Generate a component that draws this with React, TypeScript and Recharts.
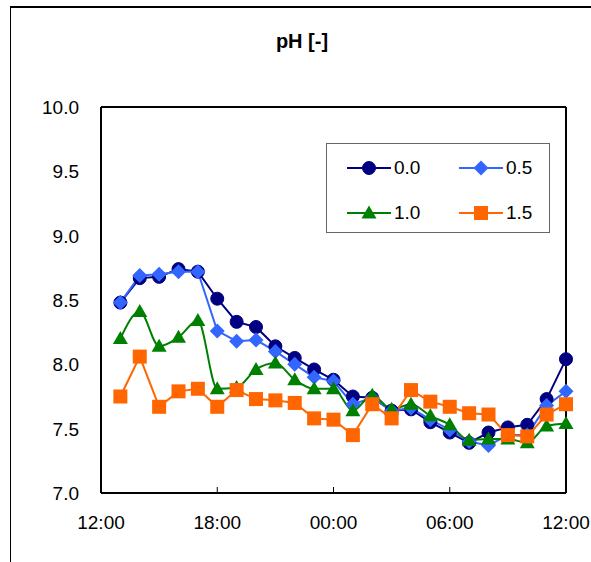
import React from 'react';
import {
  LineChart,
  Line,
  XAxis,
  YAxis,
  CartesianGrid,
  Legend,
} from 'recharts';

// hours after 12:00 (13:00 ... 12:00 next day)
const hours = [1, 2, 3, 4, 5, 6, 7, 8, 9, 10, 11, 12, 13, 14, 15, 16, 17, 18, 19, 20, 21, 22, 23, 24];

const ph00 = [8.48, 8.67, 8.68, 8.74, 8.72, 8.51, 8.33, 8.29, 8.14, 8.05, 7.96, 7.88, 7.75, 7.74, 7.64, 7.65, 7.55, 7.47, 7.39, 7.47, 7.51, 7.53, 7.73, 8.04];
const ph05 = [8.48, 8.69, 8.70, 8.72, 8.72, 8.26, 8.18, 8.19, 8.10, 8.00, 7.90, 7.87, 7.69, 7.74, 7.64, 7.66, 7.57, 7.49, 7.40, 7.37, 7.45, 7.45, 7.68, 7.79];
const ph10 = [8.20, 8.41, 8.14, 8.21, 8.34, 7.81, 7.82, 7.96, 8.01, 7.88, 7.81, 7.81, 7.64, 7.76, 7.65, 7.69, 7.60, 7.53, 7.41, 7.42, 7.42, 7.39, 7.52, 7.54];
const ph15 = [7.75, 8.06, 7.67, 7.79, 7.81, 7.67, 7.80, 7.73, 7.72, 7.70, 7.58, 7.57, 7.45, 7.69, 7.58, 7.80, 7.71, 7.67, 7.62, 7.61, 7.45, 7.44, 7.61, 7.69];

const xTicks = [0, 6, 12, 18, 24];
const xTickLabels = ['12:00', '18:00', '00:00', '06:00', '12:00'];
const yTicks = [7.0, 7.5, 8.0, 8.5, 9.0, 9.5, 10.0];

const seriesNames = ['0.0', '0.5', '1.0', '1.5'];
const colors = ['#000080', '#3366FF', '#008000', '#FF6600'];

const data = hours.map((h, i) => ({
  h,
  s00: ph00[i],
  s05: ph05[i],
  s10: ph10[i],
  s15: ph15[i],
}));

const FONT = '"Liberation Sans", Arial, sans-serif';

function Marker({ shape, cx, cy, color }: { shape: string; cx: number; cy: number; color: string }) {
  if (shape === 'circle') return <circle cx={cx} cy={cy} r={6.5} fill={color} stroke={color} />;
  if (shape === 'diamond')
    return <polygon points={`${cx},${cy - 7.5} ${cx + 7.5},${cy} ${cx},${cy + 7.5} ${cx - 7.5},${cy}`} fill={color} />;
  if (shape === 'triangle')
    return <polygon points={`${cx},${cy - 7.5} ${cx + 7.5},${cy + 5.5} ${cx - 7.5},${cy + 5.5}`} fill={color} />;
  return <rect x={cx - 7} y={cy - 7} width={14} height={14} fill={color} />;
}

const shapes = ['circle', 'diamond', 'triangle', 'square'];

const makeDot = (idx: number) => (props: any) => {
  const { cx, cy, index } = props;
  if (cx == null || cy == null) return <g key={`d${idx}-${index}`} />;
  return (
    <g key={`d${idx}-${index}`}>
      <Marker shape={shapes[idx]} cx={cx} cy={cy} color={colors[idx]} />
    </g>
  );
};

const XTick = (props: any) => {
  const { x, y, index } = props;
  return (
    <g>
      {index > 0 && index < xTicks.length - 1 && (
        <line x1={x} x2={x} y1={y - 6} y2={y} stroke="#000" strokeWidth={1} />
      )}
      <text x={x} y={y + 36} textAnchor="middle" fontSize={19} fontFamily={FONT} fill="#000">
        {xTickLabels[index]}
      </text>
    </g>
  );
};

const YTick = (props: any) => {
  const { y, payload } = props;
  return (
    <text x={79} y={y + 7} textAnchor="end" fontSize={19} fontFamily={FONT} fill="#000">
      {payload.value.toFixed(1)}
    </text>
  );
};

const LegendBox = () => {
  const items = [0, 1, 2, 3];
  return (
    <div
      style={{
        width: 224,
        height: 90,
        boxSizing: 'border-box',
        border: '1.5px solid #666',
        background: '#fff',
        position: 'relative',
        fontFamily: FONT,
        fontSize: 19,
      }}
    >
      {items.map((i) => {
        const col = i % 2;
        const row = Math.floor(i / 2);
        return (
          <div
            key={i}
            style={{
              position: 'absolute',
              left: 20 + col * 112,
              top: 12 + row * 45,
              display: 'flex',
              alignItems: 'center',
              height: 24,
            }}
          >
            <svg width={45} height={24}>
              <line x1={0} x2={44} y1={12} y2={12} stroke={colors[i]} strokeWidth={2} />
              <Marker shape={shapes[i]} cx={22} cy={12} color={colors[i]} />
            </svg>
            <span style={{ marginLeft: 2, color: '#000' }}>{seriesNames[i]}</span>
          </div>
        );
      })}
    </div>
  );
};

export default function App() {
  return (
    <div style={{ position: 'absolute', left: 0, top: 0, width: 591, height: 562, background: '#fff', overflow: 'hidden' }}>
      <div
        style={{
          position: 'absolute',
          left: 10,
          top: 6,
          width: 700,
          height: 700,
          borderLeft: '1.5px solid #000',
          borderTop: '2px solid #000',
        }}
      />
      <div
        style={{
          position: 'absolute',
          left: 0,
          top: 29,
          width: 604,
          textAlign: 'center',
          fontFamily: FONT,
          fontWeight: 'bold',
          fontSize: 20,
          lineHeight: '24px',
        }}
      >
        pH [-]
      </div>
      <div style={{ position: 'absolute', left: 0, top: 0 }}>
        <LineChart
          width={591}
          height={562}
          data={data}
          margin={{ top: 106, right: 24, bottom: 39, left: 41 }}
        >
          <CartesianGrid horizontal vertical={false} stroke="#000" strokeWidth={1} />
          <XAxis
            xAxisId="b"
            dataKey="h"
            type="number"
            domain={[0, 24]}
            ticks={xTicks}
            interval={0}
            tickSize={0}
            tickMargin={0}
            tick={<XTick />}
            axisLine={{ stroke: '#000', strokeWidth: 2 }}
            tickLine={false}
            height={30}
          />
          <XAxis
            xAxisId="t"
            dataKey="h"
            type="number"
            orientation="top"
            domain={[0, 24]}
            tick={false}
            tickLine={false}
            axisLine={{ stroke: '#000', strokeWidth: 2 }}
            height={1}
          />
          <YAxis
            yAxisId="l"
            type="number"
            domain={[7, 10]}
            ticks={yTicks}
            interval={0}
            tick={<YTick />}
            tickLine={false}
            axisLine={{ stroke: '#000', strokeWidth: 2 }}
            width={60}
          />
          <YAxis
            yAxisId="r"
            orientation="right"
            type="number"
            domain={[7, 10]}
            tick={false}
            tickLine={false}
            axisLine={{ stroke: '#000', strokeWidth: 2 }}
            width={1}
          />
          <Legend
            layout="horizontal"
            verticalAlign="middle"
            align="center"
            content={<LegendBox />}
            wrapperStyle={{ position: 'absolute', left: 326, top: 143, width: 224, height: 90 }}
          />
          <Line xAxisId="b" yAxisId="l" dataKey="s00" name={seriesNames[0]} type="linear" stroke={colors[0]} strokeWidth={2} dot={makeDot(0)} isAnimationActive={false} />
          <Line xAxisId="b" yAxisId="l" dataKey="s05" name={seriesNames[1]} type="linear" stroke={colors[1]} strokeWidth={2} dot={makeDot(1)} isAnimationActive={false} />
          <Line xAxisId="b" yAxisId="l" dataKey="s10" name={seriesNames[2]} type="monotoneX" stroke={colors[2]} strokeWidth={2} dot={makeDot(2)} isAnimationActive={false} />
          <Line xAxisId="b" yAxisId="l" dataKey="s15" name={seriesNames[3]} type="linear" stroke={colors[3]} strokeWidth={2} dot={makeDot(3)} isAnimationActive={false} />
        </LineChart>
      </div>
    </div>
  );
}
